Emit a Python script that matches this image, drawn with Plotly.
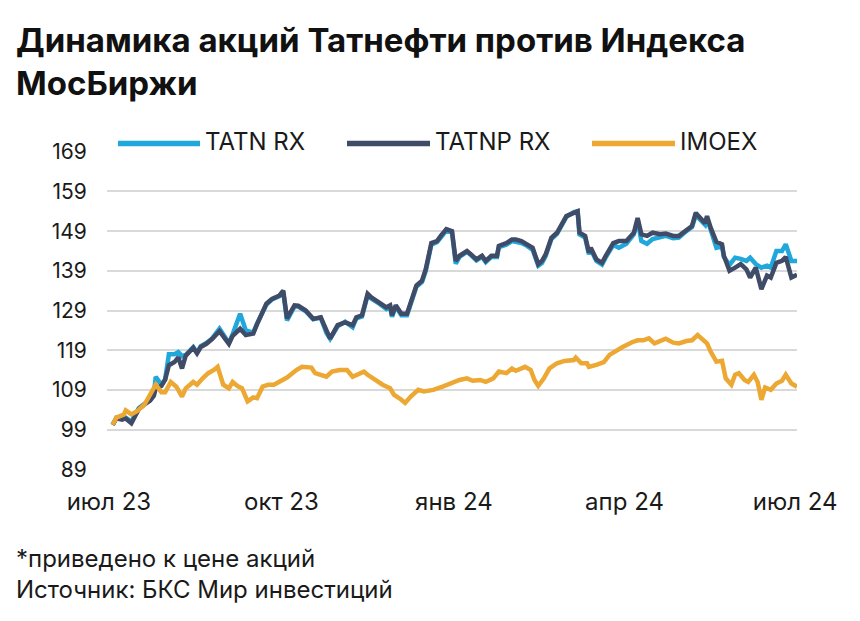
import plotly.graph_objects as go

# --- data (index, start = 100) ---
tat_dates = [
    "2023-07-03", "2023-07-05", "2023-07-08", "2023-07-10", "2023-07-13", "2023-07-15",
    "2023-07-17", "2023-07-20", "2023-07-23", "2023-07-25", "2023-07-26", "2023-07-29",
    "2023-07-31", "2023-08-02", "2023-08-05", "2023-08-07", "2023-08-09", "2023-08-11",
    "2023-08-15", "2023-08-17", "2023-08-19", "2023-08-22", "2023-08-25", "2023-08-29",
    "2023-09-01", "2023-09-03", "2023-09-05", "2023-09-09", "2023-09-12", "2023-09-16",
    "2023-09-18", "2023-09-23", "2023-09-26", "2023-09-30", "2023-10-02", "2023-10-04",
    "2023-10-08", "2023-10-10", "2023-10-14", "2023-10-18", "2023-10-22", "2023-10-25",
    "2023-10-27", "2023-10-31", "2023-11-04", "2023-11-08", "2023-11-10", "2023-11-13",
    "2023-11-16", "2023-11-18", "2023-11-22", "2023-11-26", "2023-11-28", "2023-11-29",
    "2023-12-01", "2023-12-04", "2023-12-07", "2023-12-09", "2023-12-12", "2023-12-15",
    "2023-12-17", "2023-12-20", "2023-12-23", "2023-12-25", "2023-12-28", "2023-12-31",
    "2024-01-02", "2024-01-04", "2024-01-08", "2024-01-10", "2024-01-13", "2024-01-16",
    "2024-01-18", "2024-01-21", "2024-01-24", "2024-01-25", "2024-01-29", "2024-02-01",
    "2024-02-03", "2024-02-06", "2024-02-09", "2024-02-12", "2024-02-15", "2024-02-17",
    "2024-02-19", "2024-02-22", "2024-02-25", "2024-02-28", "2024-03-01", "2024-03-05",
    "2024-03-07", "2024-03-08", "2024-03-11", "2024-03-13", "2024-03-14", "2024-03-17",
    "2024-03-20", "2024-03-22", "2024-03-26", "2024-03-29", "2024-04-02", "2024-04-06",
    "2024-04-08", "2024-04-10", "2024-04-13", "2024-04-16", "2024-04-20", "2024-04-23",
    "2024-04-27", "2024-04-30", "2024-05-04", "2024-05-07", "2024-05-09", "2024-05-12",
    "2024-05-14", "2024-05-15", "2024-05-17", "2024-05-20", "2024-05-23", "2024-05-24",
    "2024-05-27", "2024-05-30", "2024-06-02", "2024-06-05", "2024-06-07", "2024-06-10",
    "2024-06-13", "2024-06-16", "2024-06-18", "2024-06-21", "2024-06-24", "2024-06-26",
    "2024-06-29", "2024-07-02",
]
tatn = [
    100.2, 102.0, 101.8, 102.0, 101.0, 102.5, 104.4, 105.5, 106.5, 108.0, 112.3, 110.3,
    111.6, 118.0, 118.0, 118.5, 117.5, 117.8, 119.8, 118.4, 120.0, 120.8, 121.9, 124.4,
    122.2, 120.8, 123.0, 128.2, 124.0, 123.4, 125.7, 130.5, 131.8, 132.6, 133.6, 126.5,
    130.0, 130.0, 128.8, 126.8, 127.2, 123.4, 121.9, 125.0, 126.2, 124.8, 127.0, 127.5,
    132.8, 132.0, 130.8, 129.4, 130.0, 127.4, 130.0, 127.8, 127.8, 130.7, 135.0, 136.2,
    139.0, 145.6, 146.2, 147.4, 149.2, 148.6, 140.8, 142.5, 143.8, 143.0, 141.6, 142.5,
    141.2, 142.5, 142.5, 145.0, 145.6, 146.5, 146.4, 146.0, 145.3, 144.3, 140.3, 141.0,
    142.8, 147.0, 148.3, 150.8, 152.6, 153.8, 154.0, 148.2, 147.4, 143.2, 144.4, 141.5,
    140.6, 142.4, 145.5, 144.8, 145.8, 148.2, 151.8, 146.5, 145.8, 147.0, 147.6, 147.8,
    147.2, 147.4, 149.0, 150.0, 153.0, 151.5, 150.6, 152.3, 149.4, 144.8, 145.2, 142.5,
    140.5, 142.3, 142.0, 141.5, 142.3, 140.7, 139.8, 140.3, 139.8, 144.0, 144.0, 145.7,
    141.5, 141.5,
]
tatnp = [
    100.2, 101.8, 101.5, 101.8, 100.6, 102.3, 104.2, 105.3, 106.3, 107.5, 109.4, 110.0,
    111.6, 115.2, 116.0, 117.2, 114.4, 117.6, 119.6, 118.2, 119.8, 120.6, 121.8, 123.8,
    122.0, 120.6, 122.6, 124.4, 122.8, 123.2, 125.5, 130.7, 131.9, 132.8, 134.0, 127.0,
    130.3, 130.2, 129.0, 126.9, 127.3, 123.6, 121.9, 125.3, 126.0, 125.3, 127.3, 127.8,
    133.2, 132.3, 131.0, 129.8, 130.3, 127.8, 130.3, 128.2, 128.2, 131.0, 135.3, 136.5,
    139.4, 146.0, 146.5, 147.8, 149.5, 149.0, 141.5, 142.8, 144.0, 143.2, 141.9, 142.8,
    141.5, 142.8, 142.8, 145.3, 146.0, 146.9, 146.9, 146.5, 145.7, 144.8, 140.7, 141.5,
    143.2, 147.3, 148.6, 151.0, 152.8, 153.6, 154.0, 148.6, 147.8, 143.6, 144.8, 141.9,
    141.0, 142.8, 146.0, 146.5, 146.5, 148.6, 152.3, 148.2, 147.8, 148.6, 148.2, 148.4,
    147.8, 147.8, 149.4, 150.3, 153.6, 151.9, 151.0, 152.8, 149.8, 146.3, 145.7, 142.8,
    139.0, 139.8, 140.7, 139.4, 137.3, 139.8, 134.4, 137.8, 137.3, 141.0, 141.5, 142.5,
    137.3, 138.0,
]

imoex_dates = [
    "2023-07-03", "2023-07-05", "2023-07-09", "2023-07-10", "2023-07-13", "2023-07-16",
    "2023-07-20", "2023-07-23", "2023-07-26", "2023-07-29", "2023-07-31", "2023-08-03",
    "2023-08-06", "2023-08-09", "2023-08-11", "2023-08-15", "2023-08-17", "2023-08-20",
    "2023-08-23", "2023-08-26", "2023-08-28", "2023-08-31", "2023-09-03", "2023-09-05",
    "2023-09-08", "2023-09-10", "2023-09-13", "2023-09-16", "2023-09-18", "2023-09-21",
    "2023-09-24", "2023-09-27", "2023-10-01", "2023-10-04", "2023-10-09", "2023-10-12",
    "2023-10-17", "2023-10-19", "2023-10-25", "2023-10-28", "2023-11-01", "2023-11-05",
    "2023-11-08", "2023-11-14", "2023-11-16", "2023-11-20", "2023-11-24", "2023-11-28",
    "2023-11-30", "2023-12-04", "2023-12-06", "2023-12-09", "2023-12-13", "2023-12-16",
    "2023-12-21", "2023-12-26", "2023-12-30", "2024-01-04", "2024-01-08", "2024-01-11",
    "2024-01-15", "2024-01-18", "2024-01-22", "2024-01-25", "2024-01-29", "2024-02-01",
    "2024-02-03", "2024-02-08", "2024-02-11", "2024-02-13", "2024-02-15", "2024-02-18",
    "2024-02-21", "2024-02-25", "2024-02-29", "2024-03-05", "2024-03-06", "2024-03-09",
    "2024-03-12", "2024-03-13", "2024-03-17", "2024-03-21", "2024-03-24", "2024-03-28",
    "2024-03-31", "2024-04-05", "2024-04-08", "2024-04-11", "2024-04-14", "2024-04-17",
    "2024-04-20", "2024-04-23", "2024-04-27", "2024-04-30", "2024-05-04", "2024-05-07",
    "2024-05-10", "2024-05-13", "2024-05-15", "2024-05-17", "2024-05-20", "2024-05-23",
    "2024-05-25", "2024-05-28", "2024-05-30", "2024-06-01", "2024-06-04", "2024-06-06",
    "2024-06-09", "2024-06-11", "2024-06-13", "2024-06-15", "2024-06-18", "2024-06-21",
    "2024-06-24", "2024-06-26", "2024-06-29", "2024-07-02",
]
imoex = [
    100.2, 102.0, 102.8, 103.8, 102.8, 103.6, 105.3, 107.8, 110.3, 108.4, 108.4, 111.0,
    109.8, 107.3, 109.4, 111.0, 110.3, 111.9, 113.2, 114.0, 114.8, 110.3, 109.4, 111.0,
    109.8, 109.4, 106.1, 107.1, 106.9, 109.8, 110.3, 110.3, 111.5, 112.1, 114.0, 114.8,
    114.6, 113.2, 112.3, 113.6, 114.0, 114.0, 112.3, 113.6, 112.8, 111.5, 110.3, 109.4,
    107.8, 106.5, 105.7, 107.3, 109.0, 108.6, 109.0, 109.8, 110.6, 111.5, 111.9, 111.3,
    111.5, 111.0, 111.9, 113.6, 113.2, 114.4, 113.8, 114.8, 114.0, 111.5, 110.0, 111.9,
    114.4, 115.7, 116.3, 116.5, 117.1, 115.7, 115.7, 114.8, 115.3, 116.0, 117.8, 119.0,
    119.8, 121.0, 121.5, 121.5, 122.0, 120.7, 121.3, 121.9, 120.9, 120.7, 121.3, 121.5,
    122.8, 121.5, 120.7, 118.6, 116.1, 116.3, 111.9, 110.3, 112.8, 113.2, 111.5, 111.0,
    112.8, 111.0, 106.5, 109.6, 109.0, 110.6, 111.3, 112.8, 110.6, 109.8,
]

tick_vals = ["2023-07-01", "2023-10-01", "2024-01-01", "2024-04-01", "2024-07-01"]
tick_text = ["июл 23", "окт 23", "янв 24", "апр 24", "июл 24"]
y_ticks = [89, 99, 109, 119, 129, 139, 149, 159, 169]

series = [
    ("TATN RX", tat_dates, tatn, "#20a7dc"),
    ("TATNP RX", tat_dates, tatnp, "#404b67"),
    ("IMOEX", imoex_dates, imoex, "#eca832"),
]

# the page body adds an 8px margin, so the figure is 8px smaller than the window
PAGE = 8
W, H = 860 - PAGE, 621 - PAGE
ML, MR, MT, MB = 107 - PAGE, 63, 151 - PAGE, 151
FONT = "Inter"
TXT = "#1a1a1a"


def px_x(px):
    return (px - PAGE - ML) / (W - ML - MR)


def px_y(py):
    return (H - MB - (py - PAGE)) / (H - MT - MB)


fig = go.Figure()
for name, xs, ys, col in series:
    fig.add_trace(go.Scatter(x=xs, y=ys, mode="lines", name=name,
                             line=dict(color=col, width=4.5), showlegend=False))

# hand-made legend with long line samples
shapes = []
annotations = []
legend_pos = [(118, 200, 203), (347, 430, 433), (592, 675, 678)]
for (name, _, _, col), (x0, x1, xt) in zip(series, legend_pos):
    shapes.append(dict(type="line", xref="paper", yref="paper",
                       x0=px_x(x0), x1=px_x(x1), y0=px_y(143.5), y1=px_y(143.5),
                       line=dict(color=col, width=5.5)))
    annotations.append(dict(text=name, xref="paper", yref="paper", x=px_x(xt), y=px_y(141),
                            xanchor="left", yanchor="middle", showarrow=False,
                            font=dict(family=FONT, size=24, color=TXT)))

annotations.append(dict(text="<b>Динамика акций Татнефти против Индекса<br>МосБиржи</b>",
                        xref="paper", yref="paper", x=px_x(14), y=px_y(61),
                        xanchor="left", yanchor="middle", align="left", showarrow=False,
                        font=dict(family=FONT, size=33, color="#111111")))

annotations.append(dict(text="*приведено к цене акций<br>Источник: БКС Мир инвестиций",
                        xref="paper", yref="paper", x=px_x(14), y=px_y(574),
                        xanchor="left", yanchor="middle", align="left", showarrow=False,
                        font=dict(family=FONT, size=24, color=TXT)))

fig.update_layout(
    width=W, height=H,
    margin=dict(l=ML, r=MR, t=MT, b=MB),
    paper_bgcolor="white", plot_bgcolor="white",
    shapes=shapes,
    annotations=annotations,
    xaxis=dict(range=["2023-06-30", "2024-07-02"], tickvals=tick_vals, ticktext=tick_text,
               showgrid=False, zeroline=False, showline=False, automargin=False,
               ticks="outside", ticklen=10, tickcolor="rgba(0,0,0,0)",
               tickfont=dict(family=FONT, size=24, color=TXT)),
    yaxis=dict(range=[88.8, 169.2], tickvals=y_ticks, showgrid=True,
               gridcolor="#d9d9d9", gridwidth=2, zeroline=False, showline=False,
               automargin=False, ticks="outside", ticklen=15, tickcolor="rgba(0,0,0,0)",
               tickfont=dict(family=FONT, size=21, color=TXT)),
)

fig.write_html("out.html")
